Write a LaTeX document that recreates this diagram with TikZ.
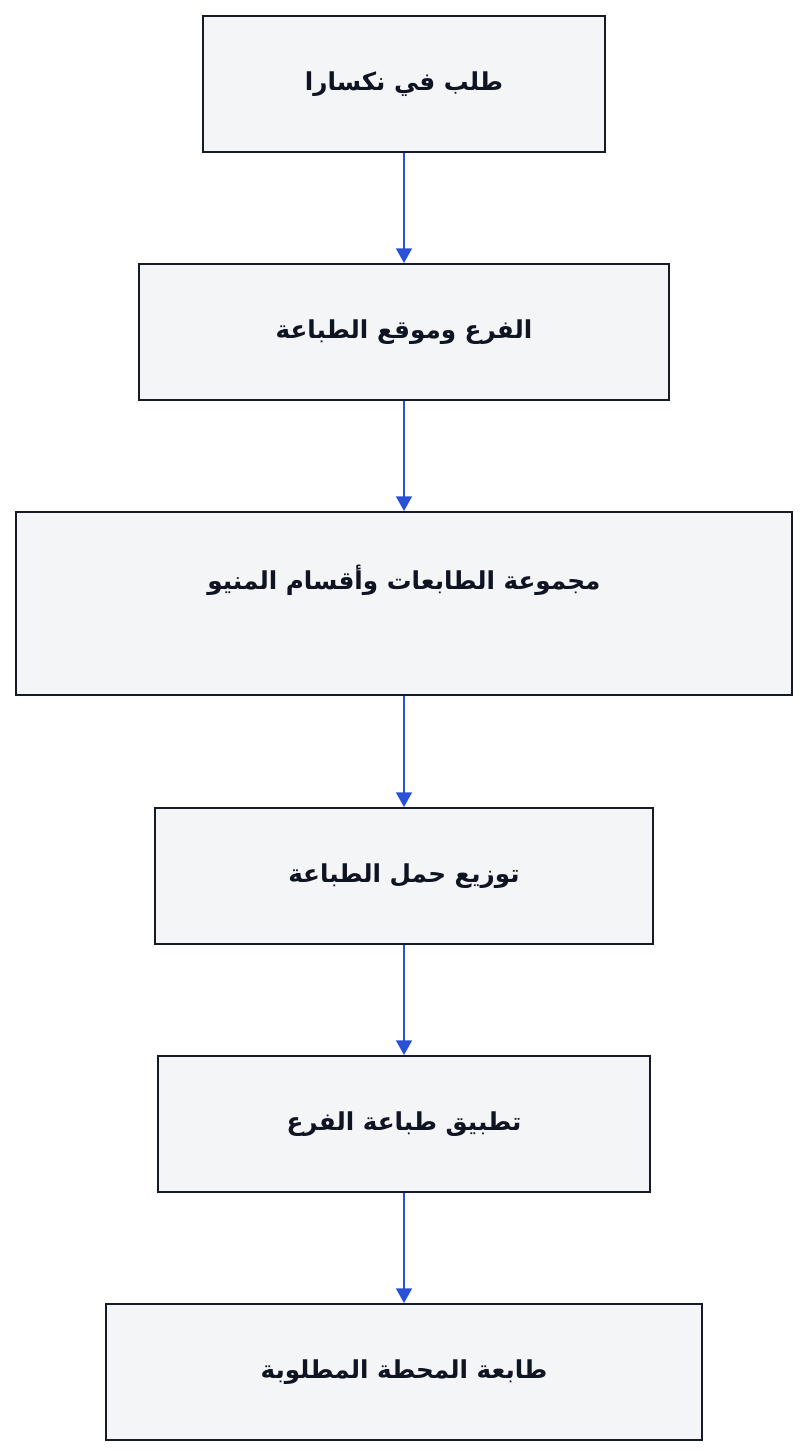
\documentclass[tikz,border=0pt]{standalone}
\usepackage{fontspec}
\usetikzlibrary{arrows.meta}
\newfontfamily\arabicfont[Script=Arabic]{DejaVu Sans}
\TeXXeTstate=1
\definecolor{boxfill}{HTML}{F4F5F7}
\definecolor{boxline}{HTML}{161B2B}
\definecolor{boxtext}{HTML}{0F1423}
\definecolor{flowline}{HTML}{2A50D8}
\def\ar#1{\arabicfont\bfseries\beginR #1\endR}
\tikzset{
    stage/.style={draw=boxline, fill=boxfill, line width=1.5pt, minimum height=102pt,
        text=boxtext, font=\fontsize{18.5}{22}\selectfont, inner sep=0pt},
    flow/.style={draw=flowline, line width=1.1pt, -{Triangle[width=12pt,length=11pt]}}
}
\begin{document}
\begin{tikzpicture}[x=0.75pt, y=-0.75pt]
    \useasboundingbox[fill=white] (0,0) rectangle (808,1456);
    \node[stage, minimum width=301.5pt] (order) at (404,84) {\ar{طلب في نكسارا}};
    \node[stage, minimum width=397.5pt] (branch) at (404,332) {\ar{الفرع وموقع الطباعة}};
    \node[stage, minimum width=582pt, minimum height=137.25pt] (groups) at (404,603.5) {};
    \node[text=boxtext, font=\fontsize{18.5}{22}\selectfont] (groupstext) at (404,580) {\ar{مجموعة الطابعات وأقسام المنيو}};
    \node[stage, minimum width=373.5pt] (load) at (404,876) {\ar{توزيع حمل الطباعة}};
    \node[stage, minimum width=369pt] (app) at (404,1124) {\ar{تطبيق طباعة الفرع}};
    \node[stage, minimum width=447pt] (station) at (404,1372) {\ar{طابعة المحطة المطلوبة}};
    \draw[flow] (order) -- (branch);
    \draw[flow] (branch) -- (groups);
    \draw[flow] (groups) -- (load);
    \draw[flow] (load) -- (app);
    \draw[flow] (app) -- (station);
\end{tikzpicture}
\end{document}
